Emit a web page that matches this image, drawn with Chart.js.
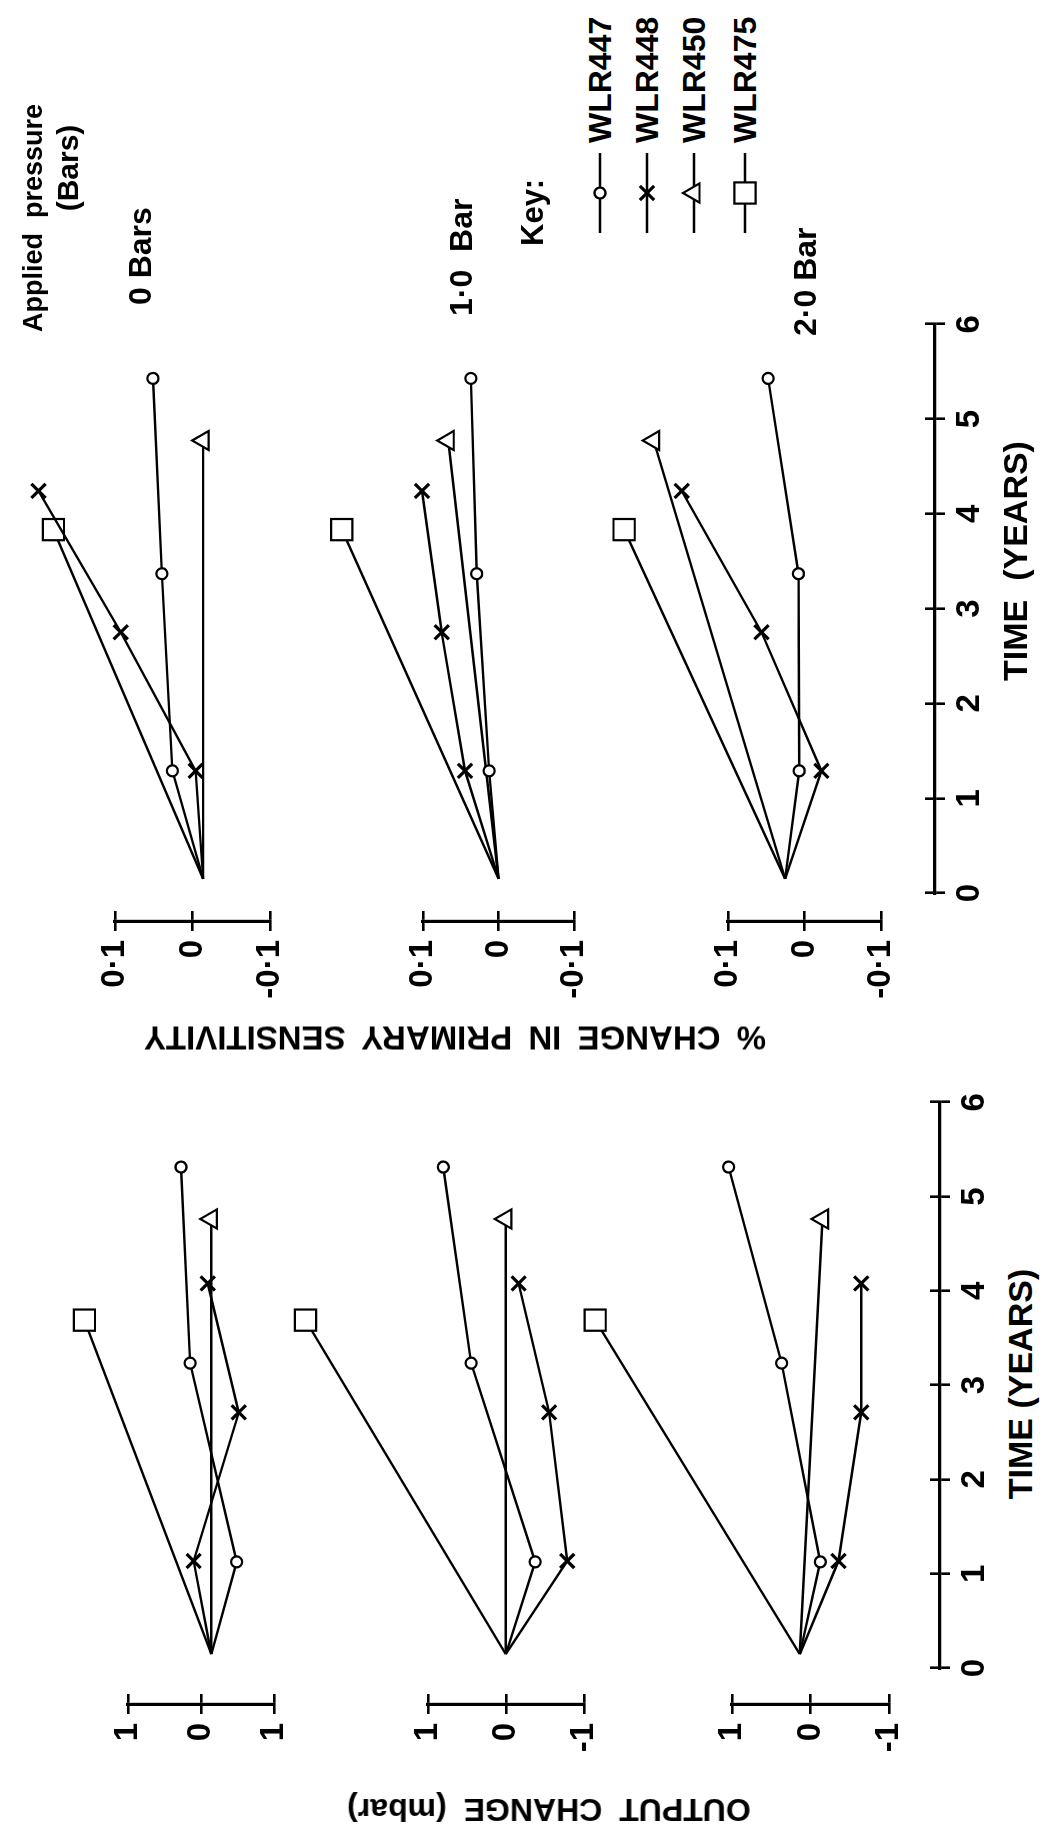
<!DOCTYPE html>
<html><head><meta charset="utf-8">
<script src="https://cdn.jsdelivr.net/npm/chart.js@4/dist/chart.umd.min.js"></script>
<style>
html,body{margin:0;padding:0;background:#fff;}
body{width:1048px;height:1833px;overflow:hidden;position:relative;}
#fig{position:absolute;left:0;top:0;width:1833px;height:1048px;transform-origin:0 0;
  transform:translate(0px,1833px) rotate(-90deg);font-family:"Liberation Sans",Arial,Helvetica,sans-serif;color:#000;}
#fig canvas{position:absolute;}
.t{position:absolute;white-space:pre;color:#000;font-weight:bold;}
</style></head>
<body><div id="fig"></div>
<script>
// ---------------- DATA ----------------
const SERIES = ['WLR447','WLR448','WLR450','WLR475'];
const PRESSURE_LABELS = ['0 Bars','1·0  Bar','2·0 Bar'];
const TIME_TICKS = [0,1,2,3,4,5,6];

// % change in primary sensitivity (right-hand half of the figure)
const SENS_T_447 = [0, 1.2, 3.39, 5.56];
const SENS_T_448 = [0, 1.2, 2.74, 4.31];
const SENS_T_450 = [0, 4.87];
const SENS_T_475 = [0, 3.88];
const SENS_0BAR_447 = [0, 0.041, 0.055, 0.067];
const SENS_0BAR_448 = [0, 0.01, 0.11, 0.22];
const SENS_0BAR_450 = [0, 0];
const SENS_0BAR_475 = [0, 0.2];
const SENS_1BAR_447 = [0, 0.013, 0.03, 0.038];
const SENS_1BAR_448 = [0, 0.046, 0.078, 0.105];
const SENS_1BAR_450 = [0, 0.069];
const SENS_1BAR_475 = [0, 0.215];
const SENS_2BAR_447 = [0.012, -0.007, -0.006, 0.035];
const SENS_2BAR_448 = [0.012, -0.037, 0.044, 0.152];
const SENS_2BAR_450 = [0.012, 0.19];
const SENS_2BAR_475 = [0.012, 0.23];
const SENS_TICKS = [-0.1, 0, 0.1];
const SENS_TICK_LABELS = ['-0·1', '0', '0·1'];

// output change (mbar) (left-hand half of the figure)
const OUT_T_447 = [0, 1.03, 3.25, 5.44];
const OUT_T_448 = [0, 1.04, 2.7, 4.14];
const OUT_T_450 = [0, 4.86];
const OUT_T_475 = [0, 3.73];
const OUT_0BAR_447 = [0, -0.36, 0.30, 0.43];
const OUT_0BAR_448 = [0, 0.25, -0.39, 0.05];
const OUT_0BAR_450 = [0, 0];
const OUT_0BAR_475 = [0, 1.8];
const OUT_1BAR_447 = [0, -0.39, 0.46, 0.83];
const OUT_1BAR_448 = [0, -0.815, -0.575, -0.17];
const OUT_1BAR_450 = [0, 0];
const OUT_1BAR_475 = [0, 2.66];
const OUT_2BAR_447 = [0, -0.27, 0.24, 0.94];
const OUT_2BAR_448 = [0, -0.51, -0.81, -0.81];
const OUT_2BAR_450 = [0, -0.30];
const OUT_2BAR_475 = [0, 2.7];
const OUT_TICKS = [-1, 0, 1];
const OUT_TICK_LABELS = ['-1', '0', '1'];
const OUT_TICK_LABELS_0BAR = ['1', '0', '1'];   // minus sign missing in the print

const KEY_SAMPLE_X = [0, 0.5, 1];
const KEY_SAMPLE_Y = [0, 0, 0];

// ---------------- LAYOUT (unrotated figure coordinates, 1833 x 1048) ----------------
const FONT = '"Liberation Sans", Arial, Helvetica, sans-serif';
Chart.defaults.font.family = FONT;
Chart.defaults.color = '#000';

const SETS = [
  { t0: 940, pxYr: 94.8, timeY: 935, axisX: 912, box: {x: 880, y: 0, w: 680, h: 1000}, unit: 0.1,
    panels: [{z: 192.5, u: 77.5}, {z: 498.5, u: 75.5}, {z: 804.5, u: 76.5}],
    times: [SENS_T_447, SENS_T_448, SENS_T_450, SENS_T_475],
    values: [[SENS_0BAR_447, SENS_0BAR_448, SENS_0BAR_450, SENS_0BAR_475],
             [SENS_1BAR_447, SENS_1BAR_448, SENS_1BAR_450, SENS_1BAR_475],
             [SENS_2BAR_447, SENS_2BAR_448, SENS_2BAR_450, SENS_2BAR_475]],
    tickVals: SENS_TICKS, tickLabels: [SENS_TICK_LABELS, SENS_TICK_LABELS, SENS_TICK_LABELS] },
  { t0: 165, pxYr: 94.3, timeY: 940, axisX: 129, box: {x: 100, y: 0, w: 680, h: 1000}, unit: 1,
    panels: [{z: 201, u: 73}, {z: 506, u: 78}, {z: 810.5, u: 78.5}],
    times: [OUT_T_447, OUT_T_448, OUT_T_450, OUT_T_475],
    values: [[OUT_0BAR_447, OUT_0BAR_448, OUT_0BAR_450, OUT_0BAR_475],
             [OUT_1BAR_447, OUT_1BAR_448, OUT_1BAR_450, OUT_1BAR_475],
             [OUT_2BAR_447, OUT_2BAR_448, OUT_2BAR_450, OUT_2BAR_475]],
    tickVals: OUT_TICKS, tickLabels: [OUT_TICK_LABELS_0BAR, OUT_TICK_LABELS, OUT_TICK_LABELS] }
];

const MARK = {
  WLR447: {pointStyle: 'circle',   radius: 5.5, bw: 2.3},
  WLR448: {pointStyle: 'crossRot', radius: 10,  bw: 3.2},
  WLR450: {pointStyle: 'triangle', radius: 11,  bw: 2.2},
  WLR475: {pointStyle: 'rect',     radius: 15,  bw: 2.2}
};
const LINE_W = 2.4;

const fig = document.getElementById('fig');
function addCanvas(x, y, w, h) {
  const c = document.createElement('canvas');
  w = Math.round(w); h = Math.round(h);
  c.width = w; c.height = h;
  c.style.left = x + 'px'; c.style.top = y + 'px';
  c.style.width = w + 'px'; c.style.height = h + 'px';
  fig.appendChild(c);
  return c;
}
const BASE = {responsive: false, maintainAspectRatio: false, animation: false, devicePixelRatio: 1, events: [],
  plugins: {legend: {display: false}, tooltip: {enabled: false}}};

function ds(times, vals, name, yAxisID, markerIdx) {
  const m = MARK[name];
  return {
    label: name, data: times.map((t, i) => ({x: t, y: vals[i]})), yAxisID,
    showLine: true, fill: false, tension: 0, borderColor: '#000', borderWidth: LINE_W,
    pointStyle: m.pointStyle,
    pointRadius: ctx => markerIdx(ctx.dataIndex) ? m.radius : 0,
    pointBorderWidth: m.bw, pointBorderColor: '#000', pointBackgroundColor: '#fff', clip: false
  };
}

function dataChart(S) {
  const b = S.box;
  const c = addCanvas(b.x, b.y, b.w, b.h);
  const scales = {x: {type: 'linear', axis: 'x', display: false, bounds: 'data',
    min: (b.x - S.t0) / S.pxYr, max: (b.x + b.w - S.t0) / S.pxYr}};
  const datasets = [];
  S.panels.forEach((P, p) => {
    scales['y' + p] = {type: 'linear', axis: 'y', display: false, bounds: 'data',
      min: (P.z - (b.y + b.h)) / P.u * S.unit, max: (P.z - b.y) / P.u * S.unit};
    SERIES.forEach((name, k) => datasets.push(ds(S.times[k], S.values[p][k], name, 'y' + p, i => i > 0)));
  });
  new Chart(c, {type: 'scatter', data: {datasets}, options: {...BASE, layout: {padding: 0}, scales}});
}

function yAxisChart(S, p) {
  const P = S.panels[p];
  const AXW = 110, IN = 10, PAD = 30;
  const c = addCanvas(S.axisX - AXW, P.z - P.u - PAD, AXW + IN, 2 * P.u + 2 * PAD);
  const labels = S.tickLabels[p];
  new Chart(c, {type: 'scatter', data: {datasets: []}, options: {...BASE,
    layout: {padding: {top: PAD, bottom: PAD, left: 0, right: 0}},
    scales: {
      x: {type: 'linear', display: false, min: 0, max: 1},
      y: {type: 'linear', position: 'left', bounds: 'data', min: -S.unit, max: S.unit,
        afterBuildTicks: s => { s.ticks = S.tickVals.map(v => ({value: v})); },
        afterFit: s => { s.width = AXW; },
        ticks: {callback: (v, i) => labels[i], font: {size: 33, weight: 'bold'}, color: '#000', padding: 9},
        grid: {drawOnChartArea: true, drawTicks: true, tickLength: 10, color: '#000', lineWidth: 2.6},
        border: {display: true, color: '#000', width: 3.2}}
    }}});
}

function timeAxisChart(S) {
  const L = 40, R = 40, TOP = 20, AH = 60, CH = 10;
  const span = (TIME_TICKS[TIME_TICKS.length - 1] - TIME_TICKS[0]) * S.pxYr;
  const W = Math.round(span + L + R);
  const c = addCanvas(S.t0 + TIME_TICKS[0] * S.pxYr - L, S.timeY - CH - TOP, W, TOP + CH + AH);
  new Chart(c, {type: 'scatter', data: {datasets: []}, options: {...BASE,
    layout: {padding: {left: L, right: W - L - span, top: TOP, bottom: 0}},
    scales: {
      x: {type: 'linear', position: 'bottom', bounds: 'data', min: TIME_TICKS[0], max: TIME_TICKS[TIME_TICKS.length - 1],
        afterBuildTicks: s => { s.ticks = TIME_TICKS.map(v => ({value: v})); },
        afterFit: s => { s.height = AH; },
        ticks: {font: {size: 33, weight: 'bold'}, color: '#000', padding: 5, maxRotation: 0, autoSkip: false, callback: v => String(v)},
        grid: {drawOnChartArea: true, drawTicks: true, tickLength: 10, color: '#000', lineWidth: 2.6},
        border: {display: true, color: '#000', width: 3.2}},
      y: {type: 'linear', display: false, min: 0, max: 1}
    }}});
}

function keyChart(name, x, cy) {
  const W = 80, H = 32;
  const c = addCanvas(x, cy - H / 2, W, H);
  const d = ds(KEY_SAMPLE_X, KEY_SAMPLE_Y, name, 'y', i => i === 1);
  new Chart(c, {type: 'scatter', data: {datasets: [d]}, options: {...BASE, layout: {padding: 0},
    scales: {x: {type: 'linear', display: false, min: 0, max: 1}, y: {type: 'linear', display: false, min: -1, max: 1}}}});
}

function text(str, x, cy, size, extra) {
  const d = document.createElement('div');
  d.className = 't'; d.textContent = str;
  d.style.fontSize = size + 'px'; d.style.lineHeight = size + 'px';
  d.style.left = x + 'px'; d.style.top = (cy - size / 2) + 'px';
  if (extra) Object.assign(d.style, extra);
  fig.appendChild(d);
  return d;
}
function ctext(str, cx, cy, size, rot, extra) {
  const d = text(str, cx, cy, size, extra);
  d.style.top = cy + 'px';
  d.style.transform = 'translate(-50%,-50%)' + (rot ? ' rotate(' + rot + 'deg)' : '');
  return d;
}

// ---------------- BUILD ----------------
SETS.forEach(S => {
  dataChart(S);
  S.panels.forEach((P, p) => yAxisChart(S, p));
  timeAxisChart(S);
});

// axis titles
ctext('TIME  (YEARS)', 1272, 1015, 34);
ctext('TIME (YEARS)', 449, 1020, 34);
ctext('% CHANGE IN PRIMARY SENSITIVITY', 795, 455, 33, -90, {wordSpacing: '7px'});
ctext('OUTPUT CHANGE (mbar)', 23, 549, 32, -90, {wordSpacing: '8px'});

// applied pressure labels
text('Applied  pressure', 1501, 33, 27);
ctext('(Bars)', 1665, 68, 30);
const PRESSURE_POS = [{x: 1528, cy: 140}, {x: 1517, cy: 461}, {x: 1497, cy: 805}];
PRESSURE_LABELS.forEach((s, i) => text(s, PRESSURE_POS[i].x, PRESSURE_POS[i].cy, 32));

// key
text('Key:', 1587, 532, 31);
const KEY_ROWS = [600, 647, 694, 745];
SERIES.forEach((name, i) => {
  keyChart(name, 1600, KEY_ROWS[i]);
  text(name, 1690, KEY_ROWS[i], 32);
});
</script>
</body></html>
